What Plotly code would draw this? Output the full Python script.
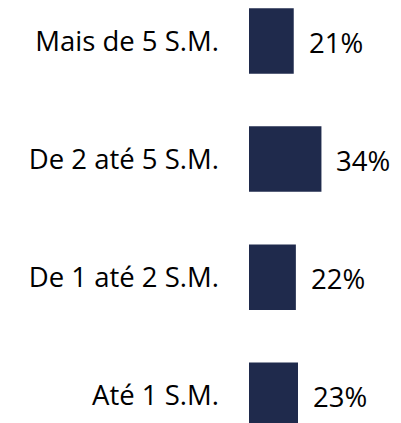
import plotly.graph_objects as go

categories = ["Até 1 S.M.", "De 1 até 2 S.M.", "De 2 até 5 S.M.", "Mais de 5 S.M."]
values = [23, 22, 34, 21]
labels = ["23%", "22%", "34%", "21%"]

BAR_COLOR = "#1F2A4C"
FONT = "Open Sans"
FSIZE = 27.5

fig = go.Figure(go.Bar(
    x=values,
    y=list(range(len(categories))),
    orientation="h",
    width=0.555,
    marker=dict(color=BAR_COLOR, line=dict(width=0)),
    hoverinfo="skip",
))

for i, (v, t) in enumerate(zip(values, labels)):
    fig.add_annotation(x=v, y=i, text=t, xanchor="left", yanchor="middle",
                       xshift=13, yshift=-1, showarrow=False,
                       font=dict(family=FONT, size=FSIZE, color="#000000"))

fig.update_layout(
    width=401, height=423,
    margin=dict(l=241, r=0, t=0, b=0),
    paper_bgcolor="white", plot_bgcolor="white",
    showlegend=False,
    xaxis=dict(range=[0, 75.1], visible=False, fixedrange=True),
    yaxis=dict(range=[-0.3023, 3.2794], tickmode="array",
               tickvals=list(range(len(categories))), ticktext=categories,
               showgrid=False, zeroline=False, showline=False, ticks="",
               ticklabelstandoff=29,
               tickfont=dict(family=FONT, size=FSIZE, color="#000000")),
)

fig.write_html("out.html")
